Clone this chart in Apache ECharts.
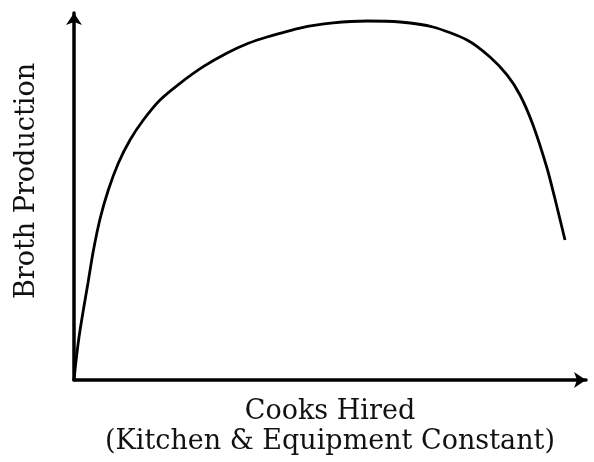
<!DOCTYPE html>
<html>
<head>
<meta charset="utf-8">
<script src="https://cdn.jsdelivr.net/npm/echarts@6/dist/echarts.min.js"></script>
<style>
  html, body { margin: 0; padding: 0; background: #fff; }
  #main { width: 594px; height: 462px; }
</style>
</head>
<body>
<div id="main"></div>
<script>
var myChart = echarts.init(document.getElementById('main'));

// cooks hired (x) and broth produced (y) (0..10 scale)
var cooks = [0, 0.039, 0.098, 0.176, 0.273, 0.377, 0.508, 0.670, 0.865, 1.094, 1.354, 1.680, 2.070,
             2.525, 2.982, 3.404, 3.770, 4.414, 5.059, 5.723, 6.367, 7.012, 7.676, 8.125, 8.457,
             8.711, 8.965, 9.238, 9.395, 9.590];
var broth = [0, 0.518, 1.172, 1.853, 2.643, 3.515, 4.387, 5.177, 5.905, 6.540, 7.084, 7.629, 8.084,
             8.537, 8.902, 9.174, 9.346, 9.591, 9.728, 9.782, 9.755, 9.619, 9.264, 8.801, 8.311,
             7.766, 6.948, 5.777, 4.932, 3.815];

var xTitle = 'Cooks Hired\n(Kitchen & Equipment Constant)';
var yTitle = 'Broth Production';

var points = cooks.map(function (c, i) { return [c, broth[i]]; });

var font = 'DejaVu Serif';

option = {
    animation: false,
    grid: {
        left: 74,
        right: 8,
        top: 13,
        bottom: 82
    },
    xAxis: {
        type: 'value',
        min: 0,
        max: 10,
        name: xTitle,
        nameLocation: 'middle',
        nameGap: 17,
        nameTextStyle: {
            fontFamily: font,
            fontSize: 27,
            color: '#111',
            lineHeight: 30,
            verticalAlign: 'top'
        },
        axisLine: {
            lineStyle: { color: '#000', width: 3.5 },
            symbol: ['none', 'arrow'],
            symbolSize: [12, 12],
            symbolOffset: [0, 0]
        },
        axisTick: { show: false },
        axisLabel: { show: false },
        splitLine: { show: false }
    },
    yAxis: {
        type: 'value',
        min: 0,
        max: 10,
        name: yTitle,
        nameLocation: 'middle',
        nameGap: 34,
        nameTextStyle: {
            fontFamily: font,
            fontSize: 27,
            color: '#111',
            padding: [0, 0, 0, 31]
        },
        axisLine: {
            lineStyle: { color: '#000', width: 3.5 },
            symbol: ['none', 'arrow'],
            symbolSize: [12, 12],
            symbolOffset: [0, 0]
        },
        axisTick: { show: false },
        axisLabel: { show: false },
        splitLine: { show: false }
    },
    series: [
        {
            type: 'line',
            data: points,
            smooth: 0.25,
            showSymbol: false,
            lineStyle: { color: '#000', width: 2.8 }
        }
    ]
};

myChart.setOption(option);
</script>
</body>
</html>
